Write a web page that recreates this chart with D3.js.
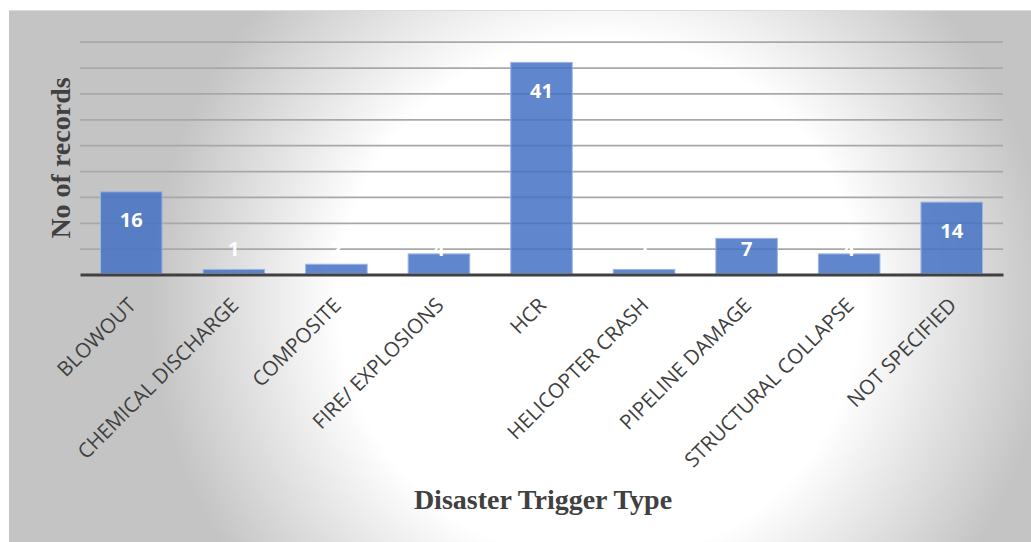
<!DOCTYPE html>
<html>
<head>
<meta charset="utf-8">
<script src="https://cdn.jsdelivr.net/npm/d3@7"></script>
<style>
  html, body { margin: 0; padding: 0; background: #ffffff; }
  svg { display: block; }
</style>
</head>
<body>
<div id="chart"></div>
<script>
// Disaster trigger types and the number of records for each
const categories = [
  "BLOWOUT", "CHEMICAL DISCHARGE", "COMPOSITE", "FIRE/ EXPLOSIONS", "HCR",
  "HELICOPTER CRASH", "PIPELINE DAMAGE", "STRUCTURAL COLLAPSE", "NOT SPECIFIED"
];
const records = [16, 1, 2, 4, 41, 1, 7, 4, 14];
const gridTicks = [5, 10, 15, 20, 25, 30, 35, 40, 45];
const yMax = 45;

const W = 1031, H = 542;
const plot = { left: 80, right: 1003, top: 41.7, bottom: 274.6 };

const svg = d3.select("#chart").append("svg")
  .attr("width", W).attr("height", H);

// Soft radial background of the chart area
const defs = svg.append("defs");
const grad = defs.append("radialGradient")
  .attr("id", "bg")
  .attr("gradientUnits", "userSpaceOnUse")
  .attr("cx", 600).attr("cy", 300).attr("r", 450);
grad.append("stop").attr("offset", 0).attr("stop-color", "#ffffff");
grad.append("stop").attr("offset", 0.58).attr("stop-color", "#ffffff");
grad.append("stop").attr("offset", 1).attr("stop-color", "#c4c4c4");

svg.append("rect")
  .attr("x", 9).attr("y", 11).attr("width", W - 9).attr("height", H - 11)
  .attr("fill", "url(#bg)");
svg.append("line")
  .attr("x1", 9).attr("x2", W).attr("y1", 10.5).attr("y2", 10.5)
  .attr("stroke", "#dcdcdc").attr("stroke-width", 1);

const x = d3.scaleBand()
  .domain(categories)
  .range([plot.left, plot.right])
  .paddingInner(0.4)
  .paddingOuter(0.2);

const y = d3.scaleLinear()
  .domain([0, yMax])
  .range([plot.bottom, plot.top]);

// Horizontal gridlines
const grid = svg.append("g")
  .attr("transform", `translate(${plot.left},0)`)
  .call(d3.axisLeft(y).tickValues(gridTicks)
    .tickSize(-(plot.right - plot.left)).tickFormat(""));
grid.select(".domain").remove();
grid.selectAll(".tick line")
  .attr("stroke", "#a8a8a8").attr("stroke-width", 1.8);

// Bars
svg.append("g").selectAll("rect")
  .data(records)
  .join("rect")
  .attr("x", (d, i) => x(categories[i]))
  .attr("width", x.bandwidth())
  .attr("y", d => y(d))
  .attr("height", d => y(0) - y(d) - 1)
  .attr("fill", "#4472c4")
  .attr("fill-opacity", 0.85)
  .attr("stroke", "#9db4e0")
  .attr("stroke-width", 1);

// Category axis line and rotated labels
const xAxis = svg.append("g")
  .attr("transform", `translate(0,${plot.bottom})`)
  .call(d3.axisBottom(x).tickSize(0).tickPadding(0));
xAxis.select(".domain")
  .attr("stroke", "#404040").attr("stroke-width", 3);
xAxis.selectAll(".tick text")
  .attr("font-family", "'Open Sans', sans-serif")
  .attr("font-size", 20.5)
  .attr("fill", "#404040")
  .attr("text-anchor", "end")
  .attr("dy", 0)
  .attr("transform", "translate(6,32) rotate(-45)");

// Value labels
svg.append("g").selectAll("text")
  .data(records)
  .join("text")
  .attr("x", (d, i) => x(categories[i]) + x.bandwidth() / 2)
  .attr("y", d => Math.min(y(d) + 28, y(5)))
  .attr("text-anchor", "middle")
  .attr("dominant-baseline", "central")
  .attr("font-family", "'Open Sans', sans-serif")
  .attr("font-weight", "bold")
  .attr("font-size", 20)
  .attr("fill", "#ffffff")
  .text(d => d);

// Axis titles
svg.append("text")
  .attr("transform", `translate(70,158) rotate(-90)`)
  .attr("text-anchor", "middle")
  .attr("font-family", "'Liberation Serif', 'Times New Roman', serif")
  .attr("font-weight", "bold")
  .attr("font-size", 28)
  .attr("fill", "#404040")
  .text("No of records");

svg.append("text")
  .attr("x", 543).attr("y", 509)
  .attr("text-anchor", "middle")
  .attr("font-family", "'Liberation Serif', 'Times New Roman', serif")
  .attr("font-weight", "bold")
  .attr("font-size", 28)
  .attr("fill", "#404040")
  .text("Disaster Trigger Type");
</script>
</body>
</html>
